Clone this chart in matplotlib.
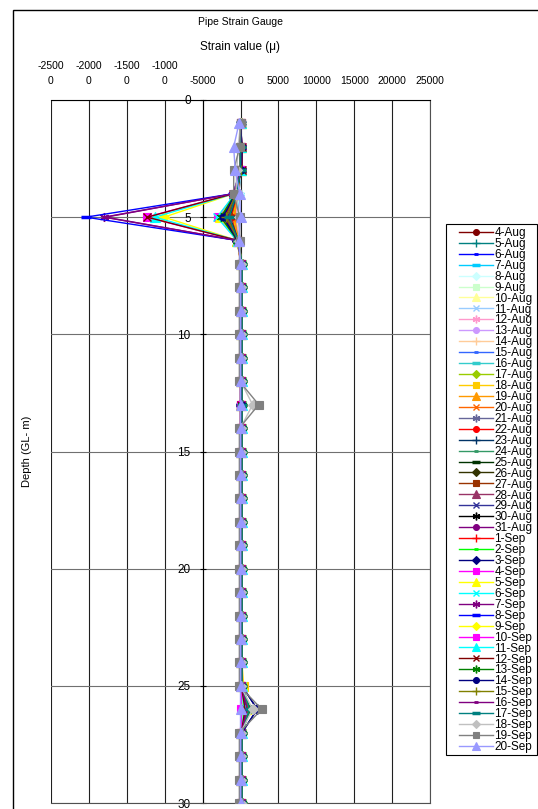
import matplotlib
matplotlib.use('Agg')
import matplotlib.pyplot as plt
from matplotlib.patches import Rectangle

plt.rcParams['font.family'] = ['Liberation Sans', 'DejaVu Sans']

# ---- Series (one reading per day) ----
dates = ['4-Aug', '5-Aug', '6-Aug', '7-Aug', '8-Aug', '9-Aug', '10-Aug', '11-Aug',
         '12-Aug', '13-Aug', '14-Aug', '15-Aug', '16-Aug', '17-Aug', '18-Aug', '19-Aug',
         '20-Aug', '21-Aug', '22-Aug', '23-Aug', '24-Aug', '25-Aug', '26-Aug', '27-Aug',
         '28-Aug', '29-Aug', '30-Aug', '31-Aug', '1-Sep', '2-Sep', '3-Sep', '4-Sep',
         '5-Sep', '6-Sep', '7-Sep', '8-Sep', '9-Sep', '10-Sep', '11-Sep', '12-Sep',
         '13-Sep', '14-Sep', '15-Sep', '16-Sep', '17-Sep', '18-Sep', '19-Sep', '20-Sep']

depth = [1, 2, 3, 4, 5, 6, 7, 8, 9, 10, 11, 12, 13, 14, 15,
         16, 17, 18, 19, 20, 21, 22, 23, 24, 25, 26, 27, 28, 29, 30]

# ---- Strain readings (micro-strain) ----
# reading of each day at the quiet gauges
base_reading = [0, 100, 0, 100, 0, 100, 0, 100, 0, 100, 100, 0,
                100, 100, 200, 100, 100, 100, 0, 200, 100, 100, 200, 100,
                100, 100, 200, 100, 100, 200, 200, 100, 100, 200, 100, 100,
                200, 100, 200, 100, 200, 200, 200, 100, 200, 0, -150, 0]

# gauges that moved: 48 values each, in date order
strain_at = {
    1: [0, 0, 0, 0, 0, 0, 0, 0, 0, 0, 0, 0,
        0, 0, 0, 0, 0, 0, 0, 0, 0, 0, 0, 0,
        0, 0, 0, 0, 0, 0, 0, 0, 0, 0, 0, 0,
        0, 0, 0, 0, 0, 0, 0, 0, 0, 0, 0, -200],
    2: [0, 0, 0, 0, 0, 0, 0, 0, 0, 0, 0, 0,
        0, 0, 0, 0, 0, 0, 0, 0, 0, 100, 0, 0,
        0, 0, 0, 0, 0, 0, 100, 0, 0, 0, 200, 0,
        0, 0, 0, 200, 0, 200, 0, 0, 0, -300, -100, -900],
    3: [0, 0, 0, 0, 0, 0, 0, 0, -100, 0, 0, 0,
        0, 0, -100, 0, 0, 0, 0, 0, 0, 0, 0, -100,
        0, 0, 0, 0, 0, -100, 0, 0, 0, 0, 200, 0,
        0, 0, 0, 200, 0, 100, 0, 0, 0, -500, -900, -700],
    4: [-200, -250, -300, -200, -250, -300, -350, -300, -300, -350, -400, -350,
        -400, -400, -450, -400, -450, -500, -450, -500, -500, -550, -500, -600,
        -550, -600, -600, -650, -600, -650, -700, -700, -650, -700, -950, -1000,
        -900, -900, -900, -950, -700, -650, -600, -950, -500, -600, -900, -100],
    5: [-350, -400, -300, -500, -450, -600, -550, -700, -650, -800, -900, -850,
        -950, -1000, -1100, -800, -1200, -1300, -1250, -1400, -1500, -1450, -1600, -1700,
        -1800, -1900, -2000, -2100, -2200, -2400, -2500, -3000, -2700, -3100, -18000, -20400,
        -10100, -12400, -11300, -12300, -2600, -2300, -1900, -17800, -1500, -200, -100, 0],
    6: [-100, -150, -100, -200, -150, -200, -150, -250, -200, -250, -200, -300,
        -250, -300, -250, -300, -350, -300, -350, -300, -400, -350, -400, -350,
        -400, -450, -400, -450, -400, -450, -500, -450, -500, -450, -350, -300,
        -350, -300, -350, -300, -400, -350, -300, -350, -300, -150, -100, -250],
    13: [0, 100, 0, 100, 0, 100, 0, 100, 0, 100, 100, 0,
         100, 100, 200, 100, 100, 100, 0, 200, 100, 100, 200, 100,
         100, 100, 200, 100, 100, 200, 200, 100, 100, 200, 100, 100,
         200, 100, 200, 100, 200, 200, 200, 100, 200, 1600, 2400, 0],
    25: [0, 100, 0, 100, 0, 100, 0, 100, 0, 100, 100, 0,
         100, 100, 400, 300, 100, 100, 0, 200, 100, 100, 200, 100,
         100, 100, 200, 100, 100, 200, 200, 100, 300, 200, 100, 100,
         200, 100, 200, 100, 200, 200, 200, 100, 200, 0, -150, 0],
    26: [100, 200, 100, 300, 200, 300, 200, 400, 300, 400, 300, 500,
         400, 500, 400, 600, 500, 600, 500, 700, 600, 700, 600, 800,
         700, 800, 700, 900, 800, 900, 2200, 600, 700, 800, 900, 800,
         300, 100, 400, 600, 1300, 2200, 1000, 900, 1200, 1600, 2800, 0],
}

# ---- Style ----
colors = ['#800000', '#008080', '#0000FF', '#00CCFF', '#CCFFFF', '#CCFFCC', '#FFFF99', '#99CCFF',
          '#FF99CC', '#CC99FF', '#FFCC99', '#3366FF', '#33CCCC', '#99CC00', '#FFCC00', '#FF9900',
          '#FF6600', '#666699', '#FF0000', '#003366', '#339966', '#003300', '#333300', '#993300',
          '#993366', '#333399', '#000000', '#800080', '#FF0000', '#00FF00', '#000080', '#FF00FF',
          '#FFFF00', '#00FFFF', '#800080', '#0000FF', '#FFFF00', '#FF00FF', '#00FFFF', '#800000',
          '#008000', '#000080', '#808000', '#800080', '#008080', '#C0C0C0', '#808080', '#9999FF']
marker_keys = ['o', '+', 'sd', 'ld', 'D', 's', '^', 'x', '*',
               'o', '+', 'sd', 'ld', 'D', 's', '^', 'x', '*',
               'o', '+', 'sd', 'ld', 'D', 's', '^', 'x', '*',
               'o',
               '+', 'sd', 'D', 's', '^', 'x', '*', 'ld', 'D', 's', '^', 'x', '*',
               'o', '+', 'sd', 'ld', 'D', 's', '^']

# marker shape, size, edge width
marker_style = {
    'o':  ('o', 5.0, 0.8),
    '+':  ('+', 6.5, 1.0),
    'sd': ('_', 4.0, 2.0),
    'ld': ('_', 7.0, 2.5),
    'D':  ('D', 4.8, 0.8),
    's':  ('s', 5.8, 0.8),
    '^':  ('^', 7.5, 0.8),
    'x':  ('x', 5.5, 1.0),
    '*':  ((6, 2, 0), 6.5, 1.0),
}

W, H = 538, 809
fig = plt.figure(figsize=(W / 100, H / 100), dpi=100)
ax = fig.add_axes([51 / W, 1 - 803 / H, (430 - 51) / W, (803 - 100) / H])

for i, name in enumerate(dates):
    vals = [strain_at[d][i] if d in strain_at else base_reading[i] for d in depth]
    mk, ms, mew = marker_style[marker_keys[i]]
    ax.plot(vals, depth, color=colors[i], linewidth=1.0, marker=mk, markersize=ms,
            markeredgewidth=mew, markerfacecolor=colors[i], markeredgecolor=colors[i],
            label=name, zorder=3)

# ---- Axes ----
xt = [-25000, -20000, -15000, -10000, -5000, 0, 5000, 10000, 15000, 20000, 25000]
xt_labels = ['-2500\n0', '-2000\n0', '-1500\n0', '-1000\n0', '-5000', '0',
             '5000', '10000', '15000', '20000', '25000']
ax.set_xlim(-25000, 25000)
ax.set_ylim(30, 0)
ax.set_xticks(xt, xt_labels)
ax.set_yticks([0, 5, 10, 15, 20, 25, 30])
ax.xaxis.tick_top()
ax.tick_params(axis='x', length=0, pad=10, labelsize=7.5)
for lbl in ax.get_xticklabels():
    lbl.set_linespacing(1.6)
ax.tick_params(axis='y', direction='inout', length=5, width=0.8, pad=6, labelsize=8.5)

ax.spines['left'].set_position(('data', -5000))
ax.spines['left'].set_linewidth(0.8)
ax.spines['top'].set_linewidth(0.8)
for s in ('right', 'bottom'):
    ax.spines[s].set_color('#505050')
    ax.spines[s].set_linewidth(0.8)

ax.grid(axis='x', color='#202020', linewidth=0.8, zorder=0)
ax.grid(axis='y', color='#707070', linewidth=0.8, zorder=0)
ax.set_axisbelow(True)

# ---- Titles ----
cx = (51 + 430) / 2 / W
fig.text(cx, 1 - 22 / H, 'Pipe Strain Gauge', ha='center', va='center', fontsize=7.5)
fig.text(cx, 1 - 47 / H, 'Strain value (μ)', ha='center', va='center', fontsize=8.5)
fig.text(27 / W, 1 - 451 / H, 'Depth (GL- m)', ha='center', va='center',
         rotation=90, fontsize=8)

# ---- Legend (frame drawn separately) ----
fig.add_artist(Rectangle((446 / W, 1 - 755 / H), (537 - 446) / W, (755 - 224) / H,
                         transform=fig.transFigure, fill=False, edgecolor='black',
                         linewidth=0.8))
fig.legend(loc='upper left', bbox_to_anchor=(459 / W, 1 - 227 / H),
           fontsize=8.5, labelspacing=-0.09, handlelength=2.9, handletextpad=0.1,
           borderpad=0, borderaxespad=0, frameon=False, markerscale=0.85)

# ---- Chart area border ----
fig.add_artist(Rectangle((13 / W, -0.05), 1.0, 1 - 10 / H + 0.05, transform=fig.transFigure,
                         fill=False, edgecolor='black', linewidth=1.0))

fig.savefig('out.png', dpi=100)
